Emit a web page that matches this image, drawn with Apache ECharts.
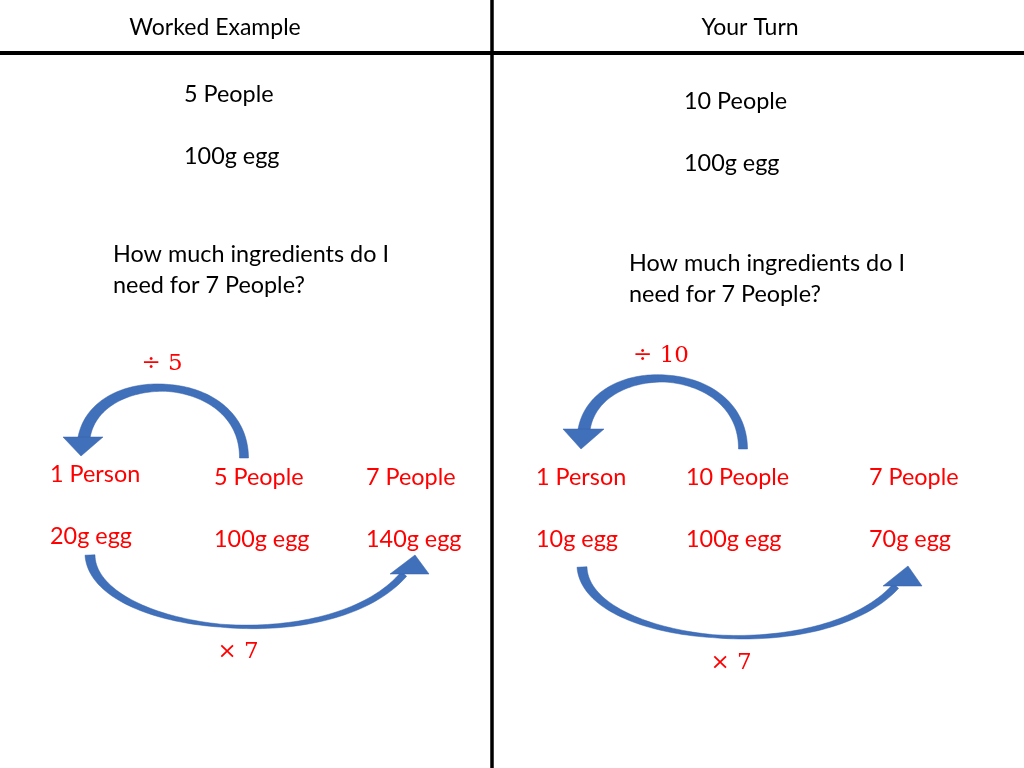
<!DOCTYPE html>
<html><head><meta charset="utf-8">
<script src="https://cdn.jsdelivr.net/npm/echarts@6/dist/echarts.min.js"></script>
<style>html,body{margin:0;padding:0;background:#fff}#c{width:1024px;height:768px}</style>
</head><body><div id="c"></div>
<script>
// Data
const headers = ["Worked Example", "Your Turn"];
const givenPeople = [5, 10];
const givenEgg = [100, 100];
const targetPeople = 7;
const workedPeople = [1, 5, 7];
const workedEgg = [20, 100, 140];
const turnPeople = [1, 10, 7];
const turnEgg = [10, 100, 70];
const divideBy = [5, 10];
const multiplyBy = [7, 7];

const ppl = n => n === 1 ? "1 Person" : n + " People";
const egg = g => g + "g egg";
const question = ["How much ingredients do I", "need for " + targetPeople + " People?"];

const FONT = "Lato, 'Open Sans', sans-serif";
const SERIF = "'DejaVu Serif', 'Liberation Serif', serif";
const RED = "#ff0000";
const BLUE = "#4170bb";

function txt(t, x, y, color, size, family, align) {
  return { type: 'text', x: x, y: y, style: { text: t, fill: color || '#000', font: (size || 23.4) + 'px ' + (family || FONT), align: align || 'left', verticalAlign: 'middle' } };
}
// tapered curved shaft as polygon around a cubic bezier
function shaft(p, w0, wm, w1) {
  const N = 80, L = [], R = [];
  for (let i = 0; i <= N; i++) {
    const t = i / N, u = 1 - t;
    const x = u*u*u*p[0] + 3*u*u*t*p[2] + 3*u*t*t*p[4] + t*t*t*p[6];
    const y = u*u*u*p[1] + 3*u*u*t*p[3] + 3*u*t*t*p[5] + t*t*t*p[7];
    const dx = 3*u*u*(p[2]-p[0]) + 6*u*t*(p[4]-p[2]) + 3*t*t*(p[6]-p[4]);
    const dy = 3*u*u*(p[3]-p[1]) + 6*u*t*(p[5]-p[3]) + 3*t*t*(p[7]-p[5]);
    const len = Math.hypot(dx, dy) || 1;
    const w = (t < 0.5 ? w0 + (wm - w0) * 2 * t : wm + (w1 - wm) * (2 * t - 1)) / 2;
    const nx = -dy / len * w, ny = dx / len * w;
    L.push([x + nx, y + ny]); R.push([x - nx, y - ny]);
  }
  return { type: 'polygon', shape: { points: L.concat(R.reverse()) }, style: { fill: BLUE, stroke: '#355fa8', lineWidth: 0.5 } };
}
function head(pts) {
  return { type: 'polygon', shape: { points: pts }, style: { fill: BLUE, stroke: '#355fa8', lineWidth: 0.5 } };
}

const g = [];
// frame lines
g.push({ type: 'line', shape: { x1: 0, y1: 53, x2: 1024, y2: 53 }, style: { stroke: '#000', lineWidth: 4 } });
g.push({ type: 'line', shape: { x1: 492, y1: 0, x2: 492, y2: 768 }, style: { stroke: '#000', lineWidth: 3.5 } });
// headers
g.push(txt(headers[0], 215, 28, '#000', 23, FONT, 'center'));
g.push(txt(headers[1], 750, 28, '#000', 23, FONT, 'center'));
// given info
g.push(txt(ppl(givenPeople[0]), 184, 94));
g.push(txt(egg(givenEgg[0]), 184, 156));
g.push(txt(ppl(givenPeople[1]), 684, 101));
g.push(txt(egg(givenEgg[1]), 684, 163));
// questions
g.push(txt(question[0], 113, 254));
g.push(txt(question[1], 113, 285));
g.push(txt(question[0], 629, 263));
g.push(txt(question[1], 629, 294));
// operators
g.push(txt('\u00f7 ' + divideBy[0], 162, 364, RED, 23, SERIF, 'center'));
g.push(txt('\u00f7 ' + divideBy[1], 661, 356, RED, 23, SERIF, 'center'));
g.push(txt('\u00d7 ' + multiplyBy[0], 238, 652, RED, 23, SERIF, 'center'));
g.push(txt('\u00d7 ' + multiplyBy[1], 731, 663, RED, 23, SERIF, 'center'));
// worked example rows
const wx = [50, 214, 366];
const wpy = [474, 477, 477];
const wey = [536, 539, 539];
for (let i = 0; i < 3; i++) {
  g.push(txt(ppl(workedPeople[i]), wx[i], wpy[i], RED));
  g.push(txt(egg(workedEgg[i]), wx[i], wey[i], RED));
}
const tx = [536, 686, 869];
for (let i = 0; i < 3; i++) {
  g.push(txt(ppl(turnPeople[i]), tx[i], 477, RED));
  g.push(txt(egg(turnEgg[i]), tx[i], 539, RED));
}
// arrows
g.push(shaft([244, 458, 244, 370, 96, 366, 84, 438], 9, 7, 12));
g.push(head([[63, 437], [103, 437], [81, 456]]));
g.push(shaft([743, 449, 743, 361, 596, 356, 584, 430], 9, 7, 12));
g.push(head([[563, 429], [604, 429], [581, 449]]));
g.push(shaft([90, 555, 93, 632, 330, 660, 404, 574], 10, 3, 7));
g.push(head([[390, 574], [429, 574], [415, 555]]));
g.push(shaft([582, 567, 586, 644, 822, 668, 896, 586], 10, 3, 7));
g.push(head([[883, 586], [922, 586], [908, 566]]));

const chart = echarts.init(document.getElementById('c'), null, { renderer: 'canvas' });
chart.setOption({ backgroundColor: '#fff', animation: false, graphic: { elements: g } });
</script>
</body></html>
